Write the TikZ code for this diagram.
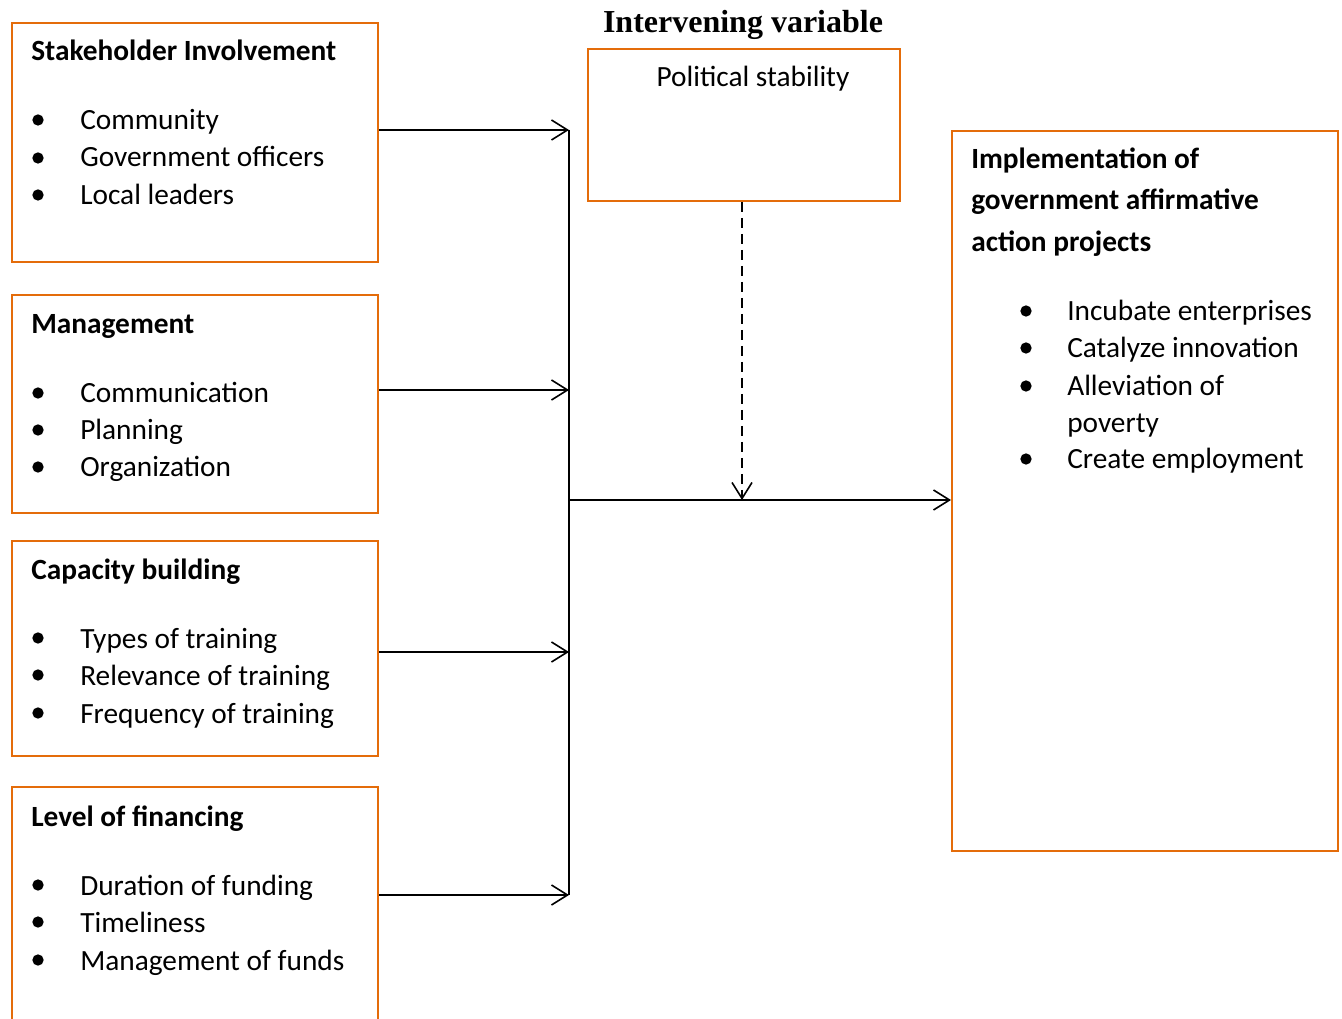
\documentclass[tikz,border=0pt]{standalone}
\usepackage{fontspec}
\setmainfont{Carlito}
\newfontfamily\titlefont{Liberation Serif}
\usetikzlibrary{arrows.meta}
\definecolor{boxorange}{RGB}{228,108,10}
\begin{document}
\begin{tikzpicture}[x=0.75pt,y=-0.75pt,
  box/.style={draw=boxorange,line width=1.5pt,inner sep=0pt,anchor=north west,fill=none},
  txt/.style={anchor=base west,inner sep=0pt,font=\fontsize{22}{26}\selectfont},
  head/.style={txt,font=\fontsize{22}{26}\selectfont\bfseries},
  bul/.style={fill=black,draw=none,circle,inner sep=0pt,minimum size=8.5pt},
  arr/.style={line width=1.2pt,-{Straight Barb[length=12pt,width=15pt,line width=1.2pt]}},
  conn/.style={line width=1.2pt}]
\useasboundingbox (0,0) rectangle (1342,1019);
\clip (0,0) rectangle (1342,1019);

% boxes
\node[box,minimum width=274.5pt,minimum height=179.25pt] (b1) at (11,22) {};
\node[box,minimum width=274.5pt,minimum height=163.5pt] (b2) at (11,294) {};
\node[box,minimum width=274.5pt,minimum height=161.25pt] (b3) at (11,540) {};
\node[box,minimum width=274.5pt,minimum height=190.5pt] (b4) at (11,786) {};
\node[box,minimum width=234pt,minimum height=114pt] (pol) at (587,48) {};
\node[box,minimum width=289.5pt,minimum height=540pt] (out) at (951,130) {};

% title
\node[anchor=base,inner sep=0pt,font=\titlefont\fontsize{24}{28}\selectfont\bfseries] (title) at (743,33) {Intervening variable};
\node[txt,anchor=base] (polt) at (753,87) {Political stability};

% box 1
\node[head] (h1) at (31,61) {Stakeholder Involvement};
\node[bul] (p11) at (38,120) {}; \node[txt] (t11) at (80,130) {Community};
\node[bul] (p12) at (38,158) {}; \node[txt] (t12) at (80,167) {Government officers};
\node[bul] (p13) at (38,195) {}; \node[txt] (t13) at (80,205) {Local leaders};
% box 2
\node[head] (h2) at (31,334) {Management};
\node[bul] (p21) at (38,393) {}; \node[txt] (t21) at (80,403) {Communication};
\node[bul] (p22) at (38,430) {}; \node[txt] (t22) at (80,440) {Planning};
\node[bul] (p23) at (38,467) {}; \node[txt] (t23) at (80,477) {Organization};
% box 3
\node[head] (h3) at (31,579) {Capacity building};
\node[bul] (p31) at (38,638) {}; \node[txt] (t31) at (80,648) {Types of training};
\node[bul] (p32) at (38,675) {}; \node[txt] (t32) at (80,685) {Relevance of training};
\node[bul] (p33) at (38,713) {}; \node[txt] (t33) at (80,723) {Frequency of training};
% box 4
\node[head] (h4) at (31,826) {Level of financing};
\node[bul] (p41) at (38,885) {}; \node[txt] (t41) at (80,895) {Duration of funding};
\node[bul] (p42) at (38,922) {}; \node[txt] (t42) at (80,932) {Timeliness};
\node[bul] (p43) at (38,960) {}; \node[txt] (t43) at (80,970) {Management of funds};
% right box
\node[head] (h51) at (971,169) {Implementation of};
\node[head] (h52) at (971,210) {government affirmative};
\node[head] (h53) at (971,252) {action projects};
\node[bul] (p51) at (1026,311) {}; \node[txt] (t51) at (1067,321) {Incubate enterprises};
\node[bul] (p52) at (1026,348) {}; \node[txt] (t52) at (1067,358) {Catalyze innovation};
\node[bul] (p53) at (1026,386) {}; \node[txt] (t53) at (1067,396) {Alleviation of};
\node[txt] (t54) at (1067,433) {poverty};
\node[bul] (p55) at (1026,459) {}; \node[txt] (t55) at (1067,469) {Create employment};

% connectors
\coordinate (j1) at (569,130);
\coordinate (j2) at (569,390);
\coordinate (j3) at (569,652);
\coordinate (j4) at (569,895);
\coordinate (jm) at (569,500);
\draw[conn] (j1) -- (j4);
\draw[arr] (b1.east |- j1) -- (j1);
\draw[arr] (b2.east |- j2) -- (j2);
\draw[arr] (b3.east |- j3) -- (j3);
\draw[arr] (b4.east |- j4) -- (j4);
\draw[arr] (jm) -- (out.west |- jm);
\coordinate (ds) at ([xshift=-1.5pt]pol.south);
\coordinate (dm) at (ds |- jm);
\draw[arr,dash pattern=on 7.5pt off 4.5pt] (ds) -- (dm);
\end{tikzpicture}
\end{document}
